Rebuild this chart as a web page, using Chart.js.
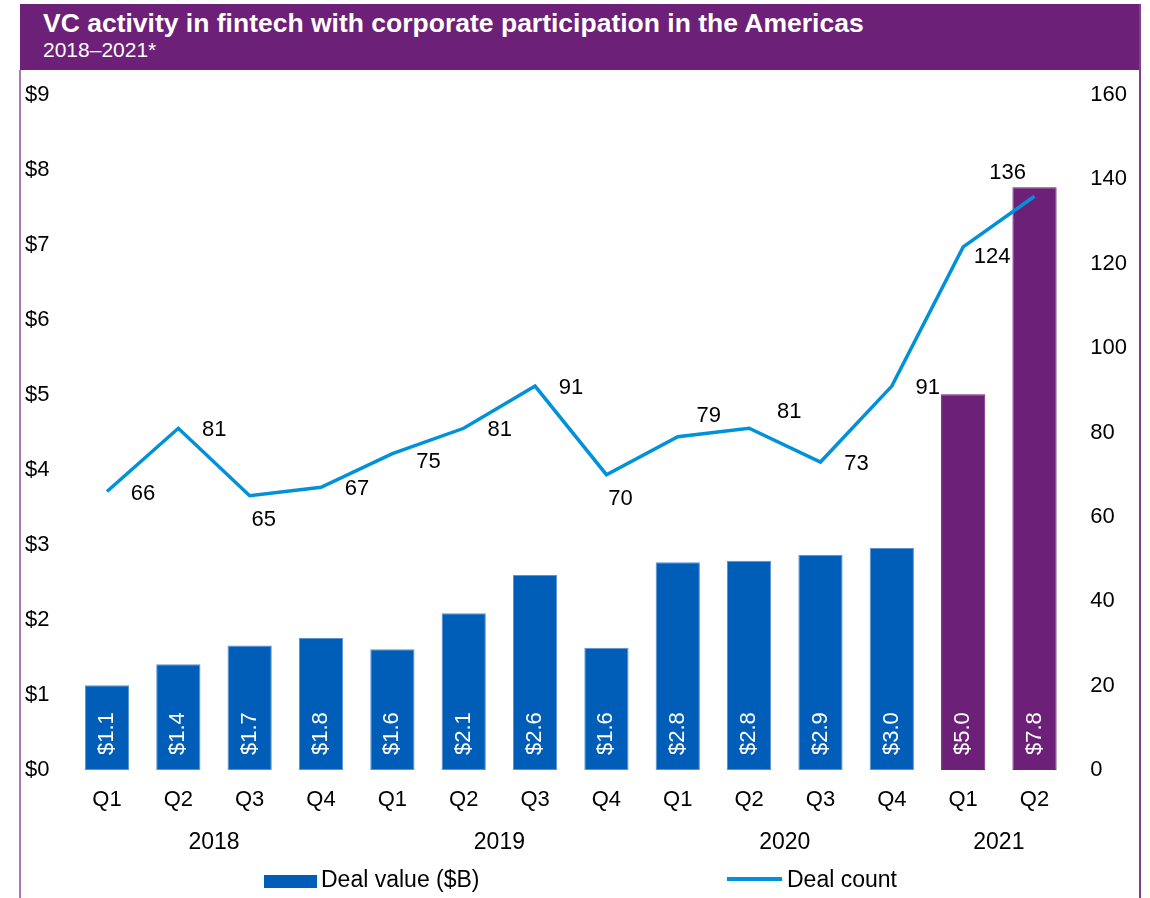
<!DOCTYPE html>
<html><head><meta charset="utf-8">
<script src="https://cdn.jsdelivr.net/npm/chart.js@4.4.1/dist/chart.umd.min.js"></script>
<style>
html,body{margin:0;padding:0;background:#fff;}
body{width:1150px;height:898px;position:relative;overflow:hidden;font-family:'Liberation Sans',Arial,sans-serif;}
#wrap{position:absolute;left:0;top:0;width:1150px;height:898px;}
#hdr{position:absolute;left:20px;top:4px;width:1121px;height:66px;background:#6D2077;color:#fff;}
#t1{position:absolute;left:23px;top:4px;font-weight:bold;font-size:26.5px;line-height:30px;white-space:nowrap;}
#t2{position:absolute;left:23px;top:34px;font-size:21px;line-height:24px;white-space:nowrap;}
#bl{position:absolute;left:19px;top:70px;width:2px;height:828px;background:#A77BB8;}
#br{position:absolute;left:1139px;top:4px;width:2px;height:894px;background:#7E3F8C;}
</style></head><body>
<div id="wrap"><canvas id="c" width="1150" height="898"></canvas></div>
<div id="hdr"><div id="t1">VC activity in fintech with corporate participation in the Americas</div><div id="t2">2018–2021*</div></div>
<div id="bl"></div><div id="br"></div>
<script>
const quarters = ['Q1','Q2','Q3','Q4','Q1','Q2','Q3','Q4','Q1','Q2','Q3','Q4','Q1','Q2'];
const years = ['2018','2018','2018','2018','2019','2019','2019','2019','2020','2020','2020','2020','2021','2021'];
const dealValue = [1.13,1.41,1.66,1.76,1.61,2.09,2.60,1.63,2.77,2.79,2.87,2.96,5.01,7.77];
const dealCount = [66,81,65,67,75,81,91,70,79,81,73,91,124,136];
const countLabelPlacement = ['r','r','b','r','rb','r','r','b','ar','ar2','r','r','br','al'];
const legendLabels = ['Deal value ($B)','Deal count'];

const BLUE = '#005EB8', PURPLE = '#6D2077', LINE = '#0091DA';
const FONT = "'Liberation Sans', Arial, sans-serif";
const FS = 22, FS2 = 23;

const placeOffsets = { r:[36,2], rb:[36,8], b:[14,24], ar:[31,-21], ar2:[40,-16], br:[29,10], al:[-27,-23] };

const overlay = {
  id:'overlay',
  afterDatasetsDraw(chart){
    const ctx = chart.ctx;
    const barMeta = chart.getDatasetMeta(1);
    const lineMeta = chart.getDatasetMeta(0);
    ctx.save();
    // bar value labels
    ctx.font = FS + 'px ' + FONT;
    ctx.fillStyle = '#fff';
    ctx.textAlign = 'left';
    ctx.textBaseline = 'middle';
    barMeta.data.forEach((el, i) => {
      ctx.save();
      ctx.translate(el.x, el.base - 15);
      ctx.rotate(-Math.PI/2);
      ctx.fillText('$' + dealValue[i].toFixed(1), 0, 0);
      ctx.restore();
    });
    // line labels
    ctx.fillStyle = '#000';
    ctx.textAlign = 'center';
    lineMeta.data.forEach((pt, i) => {
      const o = placeOffsets[countLabelPlacement[i]];
      ctx.fillText(String(dealCount[i]), pt.x + o[0], pt.y + o[1]);
    });
    // year labels
    ctx.font = FS2 + 'px ' + FONT;
    const xs = chart.scales.x;
    const seen = [];
    years.forEach(y => { if (!seen.includes(y)) seen.push(y); });
    seen.forEach(y => {
      const first = years.indexOf(y), last = years.lastIndexOf(y);
      const cx = (xs.getPixelForValue(first) + xs.getPixelForValue(last)) / 2;
      ctx.fillText(y, cx, chart.chartArea.bottom + 72.5);
    });
    // legend
    const ly = chart.chartArea.bottom + 111;
    ctx.textAlign = 'left';
    ctx.fillStyle = BLUE;
    ctx.fillRect(264, ly - 6, 53, 13);
    ctx.fillStyle = '#000';
    ctx.fillText(legendLabels[0], 321, ly);
    ctx.strokeStyle = LINE;
    ctx.lineWidth = 4;
    ctx.beginPath(); ctx.moveTo(727, ly - 2); ctx.lineTo(782, ly - 2); ctx.stroke();
    ctx.fillText(legendLabels[1], 787, ly);
    ctx.restore();
  }
};

const tickFont = { family: FONT, size: FS };
new Chart(document.getElementById('c'), {
  data: {
    labels: quarters,
    datasets: [
      { type:'line', label: legendLabels[1], data: dealCount, yAxisID:'yCount',
        borderColor: LINE, borderWidth: 3.5, pointRadius: 0, tension: 0, order: 0 },
      { type:'bar', label: legendLabels[0], data: dealValue, yAxisID:'yValue',
        backgroundColor: years.map(y => y === '2021' ? PURPLE : BLUE),
        borderColor: years.map(y => y === '2021' ? PURPLE : '#5A92D4'),
        borderWidth: 1, borderSkipped: false,
        categoryPercentage: 1, barPercentage: 0.62, order: 1 }
    ]
  },
  options: {
    responsive: false, animation: false, devicePixelRatio: 1,
    layout: { padding: { left: 25, top: 95, right: 0, bottom: 0 } },
    plugins: { legend: { display: false }, tooltip: { enabled: false } },
    scales: {
      x: {
        grid: { display: false, drawTicks: false }, border: { display: false },
        ticks: { padding: 17, color: '#000', font: tickFont, maxRotation: 0, autoSkip: false },
        afterFit(s){ s.height = 128; s.paddingLeft = 0; s.paddingRight = 0; }
      },
      yValue: {
        position: 'left', min: 0, max: 9,
        grid: { display: false, drawTicks: false }, border: { display: false },
        ticks: { stepSize: 1, crossAlign: 'far', color: '#000', font: tickFont, callback: v => '$' + v },
        afterFit(s){ s.width = 46.3; s.paddingTop = 0; s.paddingBottom = 0; }
      },
      yCount: {
        position: 'right', min: 0, max: 160,
        grid: { display: false, drawTicks: false }, border: { display: false },
        ticks: { stepSize: 20, padding: 20, color: '#000', font: tickFont },
        afterFit(s){ s.width = 79.8; s.paddingTop = 0; s.paddingBottom = 0; }
      }
    }
  },
  plugins: [overlay]
});
</script>
</body></html>
